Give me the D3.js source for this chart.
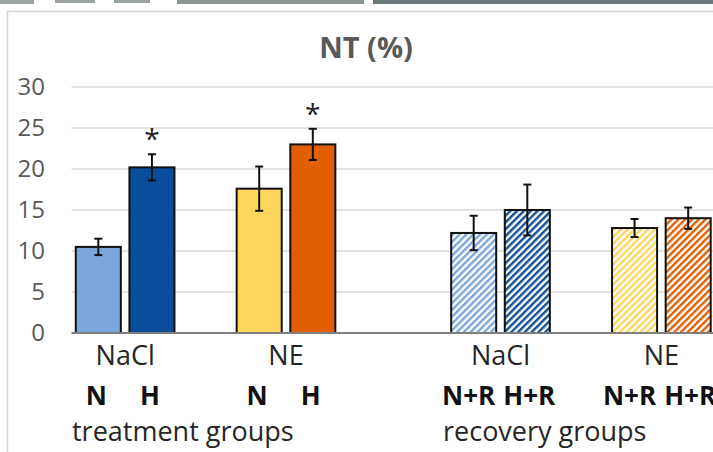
<!DOCTYPE html>
<html lang="en">
<head>
    <meta charset="UTF-8">
    <title>NT (%)</title>
    <script src="https://d3js.org/d3.v7.min.js"></script>
    <style>
        body { margin: 0; background: #fff; }
        text { font-family: "Open Sans", sans-serif; }
    </style>
</head>
<body>
    <div id="my_dataviz"></div>
    <script>
        // data
        var barLabels = ["N", "H", "N", "H", "N+R", "H+R", "N+R", "H+R"];
        var groupLabels = ["NaCl", "NE", "NaCl", "NE"];
        var values = [10.5, 20.2, 17.6, 23.0, 12.2, 15.0, 12.8, 14.0];
        var errors = [1.0, 1.6, 2.7, 1.9, 2.1, 3.1, 1.1, 1.3];
        var significant = [false, true, false, true, false, false, false, false];
        var yTicks = [0, 5, 10, 15, 20, 25, 30];
        var sections = ["treatment groups", "recovery groups"];

        var colors = ["#7ba7dc", "#0a4e9b", "#ffd65c", "#e15f00", "#7ba7dc", "#0f4f96", "#ffd65c", "#e15f00"];
        var hatched = [false, false, false, false, true, true, true, true];

        var width = 713, height = 452;

        var svg = d3.select("#my_dataviz")
          .append("svg")
            .attr("width", width)
            .attr("height", height);

        // strip of the neighbouring picture at the top
        svg.append("rect").attr("x", 0).attr("y", 0).attr("width", 34).attr("height", 4).attr("fill", "#9aa4a2");
        svg.append("rect").attr("x", 55).attr("y", 0).attr("width", 40).attr("height", 3).attr("fill", "#9aa4a2");
        svg.append("rect").attr("x", 114).attr("y", 0).attr("width", 36).attr("height", 3).attr("fill", "#9aa4a2");
        svg.append("rect").attr("x", 177).attr("y", 0).attr("width", 187).attr("height", 4).attr("fill", "#8a9696");
        svg.append("rect").attr("x", 373).attr("y", 0).attr("width", 340).attr("height", 4).attr("fill", "#6a7879");

        // chart frame
        svg.append("line").attr("x1", 7).attr("x2", width).attr("y1", 11.5).attr("y2", 11.5)
            .attr("stroke", "#d4d4d4").attr("stroke-width", 1.5);
        svg.append("line").attr("x1", 7.5).attr("x2", 7.5).attr("y1", 11).attr("y2", height)
            .attr("stroke", "#d4d4d4").attr("stroke-width", 1.5);

        // hatch patterns
        var defs = svg.append("defs");
        colors.forEach(function(c, i) {
            if (!hatched[i]) return;
            var p = defs.append("pattern")
                .attr("id", "hatch" + i)
                .attr("patternUnits", "userSpaceOnUse")
                .attr("width", 4.8).attr("height", 4.8)
                .attr("patternTransform", "rotate(45)");
            p.append("rect").attr("width", 4.8).attr("height", 4.8).attr("fill", "#fff");
            p.append("line").attr("x1", 1.2).attr("x2", 1.2).attr("y1", 0).attr("y2", 4.8)
                .attr("stroke", c).attr("stroke-width", 2.4);
        });

        // 12 slots, bars sit in pairs with empty slots between
        var slotOf = function(i) { return i + Math.floor(i / 2) + (i >= 4 ? 1 : 0); };
        var x = d3.scaleBand()
            .domain(d3.range(12))
            .range([71.5, 715])
            .paddingInner(0.16)
            .paddingOuter(0.08);

        var y = d3.scaleLinear()
            .domain([0, 30])
            .range([333, 87]);

        // gridlines
        svg.append("g")
            .selectAll("line")
            .data(yTicks.filter(function(d) { return d > 0; }))
            .enter()
            .append("line")
              .attr("x1", 71.5).attr("x2", width)
              .attr("y1", function(d) { return y(d); })
              .attr("y2", function(d) { return y(d); })
              .attr("stroke", "#d9d9d9")
              .attr("stroke-width", 1.5);

        // Y axis labels
        var yAxis = svg.append("g")
            .attr("transform", "translate(45,0)")
            .call(d3.axisLeft(y).tickValues(yTicks).tickSize(0).tickPadding(0));
        yAxis.select(".domain").remove();
        yAxis.selectAll("text")
            .style("font-family", "'Open Sans', sans-serif")
            .style("font-size", "24px")
            .attr("fill", "#595959");

        // bars
        var centre = function(i) { return x(slotOf(i)) + x.bandwidth() / 2; };
        svg.append("g")
            .selectAll("rect")
            .data(values)
            .enter()
            .append("rect")
              .attr("x", function(d, i) { return x(slotOf(i)); })
              .attr("y", function(d) { return y(d); })
              .attr("width", x.bandwidth())
              .attr("height", function(d) { return y(0) - y(d); })
              .attr("fill", function(d, i) { return hatched[i] ? "url(#hatch" + i + ")" : colors[i]; })
              .attr("stroke", "#111")
              .attr("stroke-width", 2);

        // x axis line
        svg.append("line").attr("x1", 71.5).attr("x2", width).attr("y1", y(0)).attr("y2", y(0))
            .attr("stroke", "#7f7f7f").attr("stroke-width", 2);

        // error bars
        var eb = svg.append("g").attr("stroke", "#111").attr("stroke-width", 2);
        values.forEach(function(v, i) {
            var cx = centre(i);
            eb.append("line").attr("x1", cx).attr("x2", cx)
                .attr("y1", y(v - errors[i])).attr("y2", y(v + errors[i]));
            [v - errors[i], v + errors[i]].forEach(function(e) {
                eb.append("line").attr("x1", cx - 4).attr("x2", cx + 4)
                    .attr("y1", y(e)).attr("y2", y(e));
            });
        });

        // significance stars
        var starIdx = d3.range(values.length).filter(function(i) { return significant[i]; });
        svg.append("g")
            .selectAll("text")
            .data(starIdx)
            .enter()
            .append("text")
              .attr("x", function(i) { return centre(i); })
              .attr("y", function(i) { return y(values[i] + errors[i]) - 5; })
              .attr("text-anchor", "middle")
              .style("font-size", "28px")
              .attr("fill", "#222")
              .text("*");

        // title
        svg.append("text")
            .attr("x", 366)
            .attr("y", 58)
            .attr("text-anchor", "middle")
            .style("font-size", "29px")
            .style("font-weight", "bold")
            .attr("fill", "#595959")
            .text("NT (%)");

        // category labels
        svg.append("g")
            .selectAll("text")
            .data(groupLabels)
            .enter()
            .append("text")
              .attr("x", function(d, g) { return (centre(2 * g) + centre(2 * g + 1)) / 2; })
              .attr("y", 365)
              .attr("text-anchor", "middle")
              .style("font-size", "27px")
              .attr("fill", "#262626")
              .text(function(d) { return d; });

        svg.append("g")
            .selectAll("text")
            .data(barLabels)
            .enter()
            .append("text")
              .attr("x", function(d, i) { return centre(i) + (i >= 4 ? (i % 2 ? 2 : -5) : -2); })
              .attr("y", 405)
              .attr("text-anchor", "middle")
              .style("font-size", "26px")
              .style("font-weight", "bold")
              .attr("fill", "#111")
              .text(function(d) { return d; });

        svg.append("g")
            .selectAll("text")
            .data(sections)
            .enter()
            .append("text")
              .attr("x", function(d, k) { return k === 0 ? 72 : 443; })
              .attr("y", 441)
              .style("font-size", "27px")
              .attr("fill", "#262626")
              .text(function(d) { return d; });
    </script>
</body>
</html>
